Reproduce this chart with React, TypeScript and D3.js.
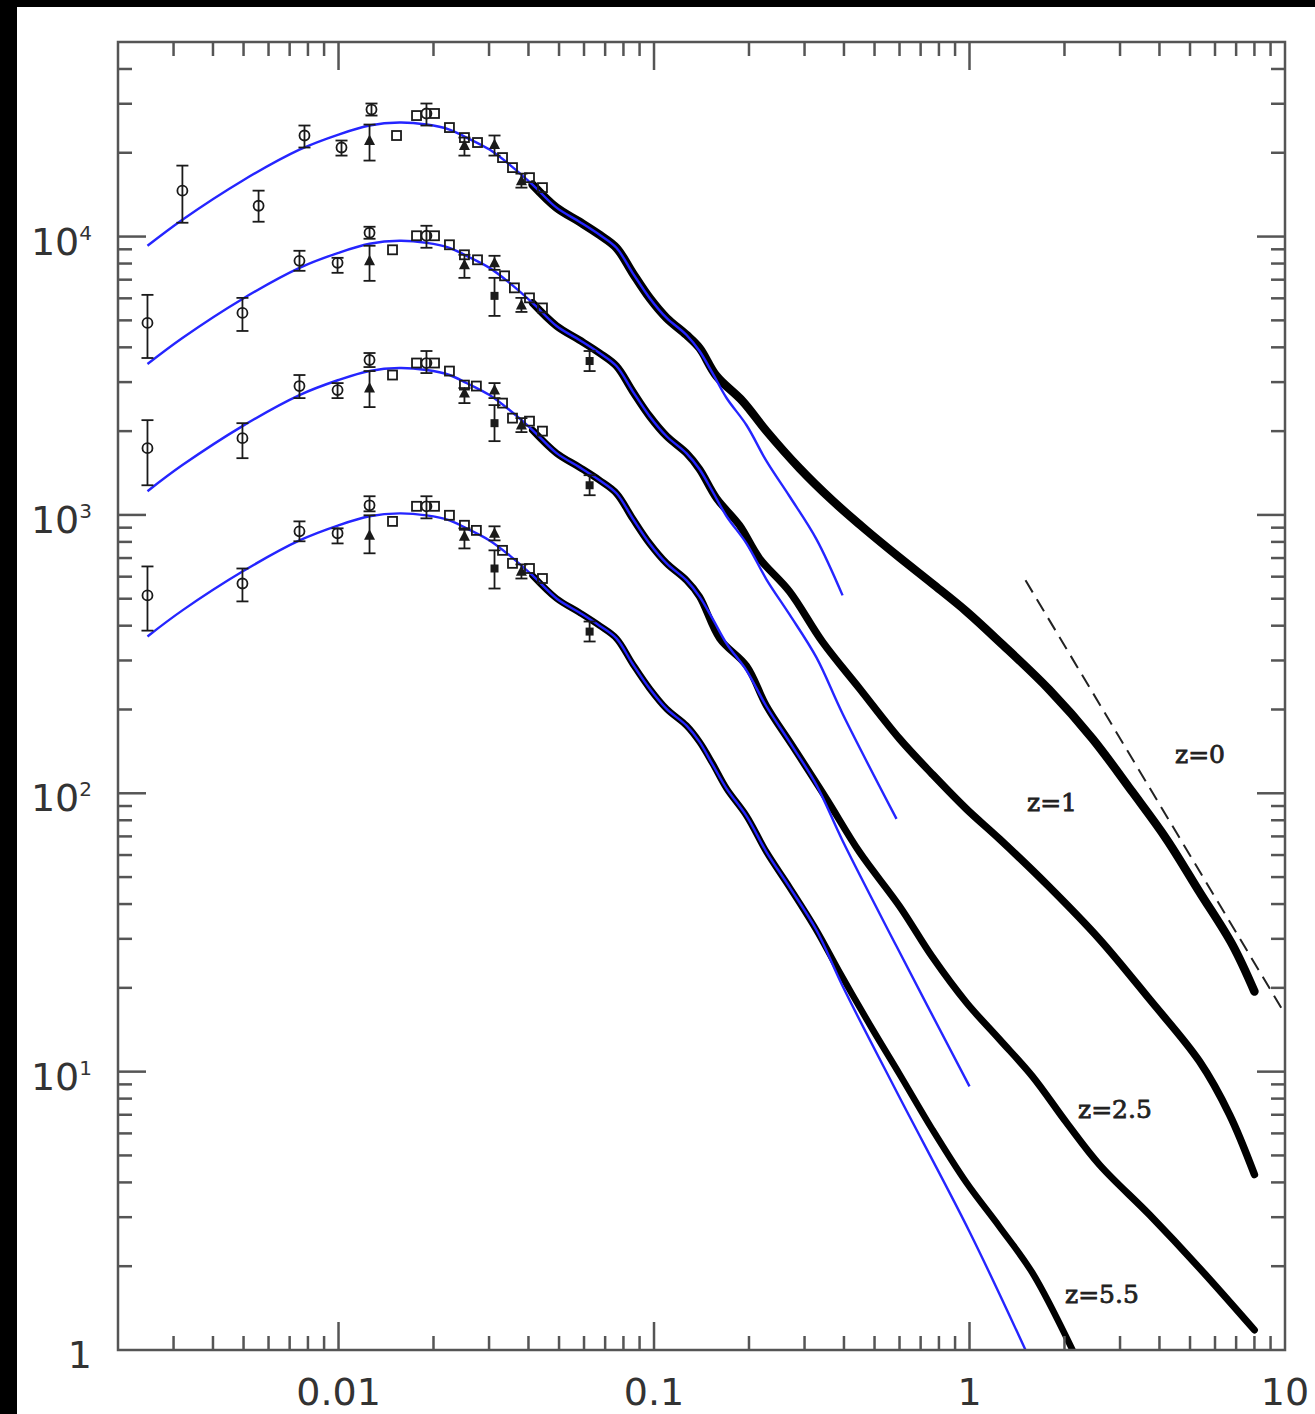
import React from "react";
import * as d3 from "d3";

// ---------- data ----------
// axis ticks
const xTickValues = [0.01, 0.1, 1, 10];
const xTickLabels = ["0.01", "0.1", "1", "10"];
const yTickValues = [1, 10, 100, 1000, 10000];
const yTickExps = ["", "1", "2", "3", "4"];

// linear-theory curves (blue): shared k grid, P per redshift
const kLin = [0.00248, 0.0032, 0.00496, 0.00752, 0.01, 0.01254, 0.01561, 0.019, 0.02247, 0.02545, 0.0301, 0.03483, 0.0412, 0.0491, 0.058, 0.0672, 0.076, 0.0855, 0.0968, 0.1096, 0.1268, 0.1394, 0.1533, 0.1698, 0.1965, 0.2273, 0.2688, 0.3274, 0.396, 0.587, 1.0, 1.505];
const pLinZ0 = [9270, 11500, 15880, 20530, 23260, 25060, 25680, 25260, 24240, 22680, 20530, 18140, 15370, 12700, 11310, 10150, 9115, 7410, 6020, 5100, 4430, 3880, 3230, 2630, 2100, 1560, 1167, 817, 514];
const pLinZ1 = [3485, 4323, 5970, 7718, 8744, 9421, 9654, 9496, 9113, 8526, 7718, 6820, 5778, 4774, 4252, 3816, 3427, 2786, 2263, 1917, 1665, 1459, 1214, 989, 789, 586, 439, 307, 193, 80.9];
const pLinZ25 = [1217, 1510, 2085, 2695, 3053, 3290, 3371, 3316, 3182, 2977, 2695, 2381, 2018, 1667, 1485, 1332, 1196, 973, 790, 670, 582, 509, 424, 345, 276, 205, 153, 107, 67.5, 28.2, 8.85];
const pLinZ55 = [366, 454, 626, 810, 918, 989, 1013, 996, 956, 895, 810, 716, 606, 501, 446, 400, 360, 292, 238, 201, 175, 153, 127, 104, 82.8, 61.5, 46.0, 32.2, 20.3, 8.48, 2.66, 1.0];

// simulation curves (thick black)
const kNlZ0 = [0.0412, 0.0491, 0.058, 0.0672, 0.076, 0.0855, 0.0968, 0.1096, 0.1268, 0.1394, 0.1578, 0.1908, 0.2273, 0.2892, 0.368, 0.4715, 0.6, 0.763, 0.978, 1.245, 1.793, 2.454, 3.285, 4.21, 5.358, 6.818, 8.0];
const pNlZ0 = [15370, 12700, 11310, 10150, 9115, 7410, 6020, 5100, 4430, 3978, 3155, 2564, 2000, 1471, 1125, 880, 703, 566, 450, 350, 235, 157, 101, 68.5, 44.2, 28.5, 19.4];
const kNlZ1 = [0.0412, 0.0491, 0.058, 0.0672, 0.076, 0.0855, 0.0968, 0.1096, 0.1268, 0.1394, 0.1578, 0.1866, 0.216, 0.2688, 0.342, 0.448, 0.6, 0.763, 0.978, 1.245, 1.793, 2.582, 3.72, 5.358, 6.67, 8.0];
const pNlZ1 = [5777, 4774, 4251, 3816, 3426, 2785, 2264, 1918, 1666, 1459, 1148, 918, 698, 531, 350, 238, 157, 117, 87.8, 68.5, 46.0, 29.9, 18.2, 10.88, 7.01, 4.27];
const kNlZ25 = [0.0412, 0.0491, 0.058, 0.0672, 0.076, 0.0855, 0.0968, 0.1096, 0.1268, 0.1394, 0.1613, 0.1965, 0.2273, 0.2748, 0.3522, 0.448, 0.6, 0.763, 0.978, 1.245, 1.584, 2.03, 2.582, 3.72, 5.358, 8.0];
const pNlZ25 = [2016, 1666, 1484, 1332, 1196, 972, 790, 670, 582, 509, 360, 287, 206, 148, 95.5, 61.5, 39.3, 25.8, 17.7, 13.06, 9.61, 6.56, 4.63, 3.06, 1.97, 1.18];
const kNlZ55 = [0.0412, 0.0491, 0.058, 0.0672, 0.076, 0.0855, 0.0968, 0.1096, 0.1268, 0.1394, 0.1533, 0.1698, 0.1965, 0.2273, 0.2688, 0.3274, 0.3872, 0.4926, 0.6, 0.763, 0.978, 1.245, 1.584, 2.121];
const pNlZ55 = [606, 501, 446, 400, 360, 292, 238, 201, 175, 153, 128, 104, 82.9, 61.5, 46.0, 32.2, 22.8, 14.2, 9.8, 6.19, 3.99, 2.77, 1.89, 1.0];

// dashed power-law reference
const kDash = [1.505, 10];
const pDash = [582, 16.1];

// observational points: [k, P, lo, hi]
const circlesZ0 = [[0.0032, 14620, 11210, 17985], [0.00558, 12905, 11306, 14620], [0.0078, 23070, 20890, 25056], [0.01022, 20890, 19540, 22130], [0.01272, 28600, 27210, 30060], [0.019, 27680, 25056, 30060]];
const squaresZ0 = [[0.01527, 23070], [0.01767, 27210], [0.02015, 27680], [0.02247, 24640], [0.02507, 22680], [0.02758, 21770], [0.0331, 19220], [0.0356, 17690], [0.0403, 16280], [0.0443, 14990]];
const trianglesZ0 = [[0.01254, 22130, 18750, 25260], [0.02507, 21230, 19540, 22680], [0.03122, 21410, 19540, 23070], [0.038, 15880, 14990, 16830]];
const filledSquaresZ0: number[][] = [];

const circlesZ1 = [[0.00248, 4895, 3662, 6174], [0.00496, 5318, 4580, 6022], [0.00752, 8183, 7533, 8890], [0.00993, 8049, 7409, 8387], [0.01254, 10320, 9820, 10846], [0.019, 10067, 9115, 10935]];
const squaresZ1 = [[0.01483, 8963], [0.01767, 10067], [0.02015, 10067], [0.02247, 9343], [0.02507, 8600], [0.02758, 8251], [0.0336, 7226], [0.0361, 6542], [0.0403, 6022], [0.0443, 5542]];
const trianglesZ1 = [[0.01254, 8183, 6933, 9268], [0.02507, 7915, 7107, 8600], [0.03122, 8049, 7594, 8529], [0.038, 5681, 5361, 6022]];
const filledSquaresZ1 = [[0.03122, 6123, 5188, 7107], [0.0625, 3572, 3287, 3880]];

const circlesZ25 = [[0.00248, 1737, 1278, 2190], [0.00496, 1887, 1599, 2136], [0.00752, 2904, 2628, 3181], [0.00993, 2809, 2628, 2976], [0.01254, 3602, 3398, 3816], [0.019, 3513, 3233, 3880]];
const squaresZ25 = [[0.01483, 3181], [0.01767, 3513], [0.02015, 3513], [0.02247, 3287], [0.02507, 2927], [0.02735, 2904], [0.0331, 2522], [0.0356, 2227], [0.0403, 2172], [0.0443, 2000]];
const trianglesZ25 = [[0.01254, 2856, 2440, 3287], [0.02507, 2740, 2522, 2856], [0.03122, 2809, 2628, 2976], [0.038, 2102, 1984, 2227]];
const filledSquaresZ25 = [[0.03122, 2136, 1841, 2480], [0.0625, 1278, 1177, 1389]];

const circlesZ55 = [[0.00248, 514, 384, 653], [0.00496, 567, 489, 642], [0.00752, 873, 804, 948], [0.00993, 859, 790, 895], [0.01254, 1083, 1030, 1167], [0.019, 1074, 972, 1167]];
const squaresZ55 = [[0.01483, 948], [0.01767, 1074], [0.02015, 1074], [0.02247, 997], [0.02507, 918], [0.02735, 880], [0.0331, 746], [0.0356, 670], [0.0403, 642], [0.0443, 591]];
const trianglesZ55 = [[0.01254, 845, 728, 997], [0.02507, 838, 758, 895], [0.03122, 859, 810, 910], [0.038, 627, 591, 664]];
const filledSquaresZ55 = [[0.03122, 642, 544, 746], [0.0625, 381, 351, 414]];

const seriesLabels = ["z=0", "z=1", "z=2.5", "z=5.5"];

// ---------- component ----------
const W = 1315;
const H = 1414;
const L = 118, R = 1285, T = 42, B = 1350;

export default function App() {
  const x = d3.scaleLog().domain([0.002, 10]).range([L, R]);
  const y = d3.scaleLog().domain([1, 5e4]).range([B, T]);

  const line = d3
    .line<[number, number]>()
    .x((d) => x(d[0]))
    .y((d) => y(d[1]))
    .curve(d3.curveCatmullRom.alpha(0.5));

  const zip = (ks: number[], ps: number[]) => ps.map((p, i) => [ks[i], p] as [number, number]);

  const linSeries = [pLinZ0, pLinZ1, pLinZ25, pLinZ55].map((ps) => zip(kLin, ps));
  const nlSeries = [
    zip(kNlZ0, pNlZ0),
    zip(kNlZ1, pNlZ1),
    zip(kNlZ25, pNlZ25),
    zip(kNlZ55, pNlZ55),
  ];
  const nlWidth = [8.5, 7.5, 7, 6.5];
  const circles = [circlesZ0, circlesZ1, circlesZ25, circlesZ55];
  const squares = [squaresZ0, squaresZ1, squaresZ25, squaresZ55];
  const triangles = [trianglesZ0, trianglesZ1, trianglesZ25, trianglesZ55];
  const fsquares = [filledSquaresZ0, filledSquaresZ1, filledSquaresZ25, filledSquaresZ55];

  // ticks
  const xTicks: { v: number; major: boolean }[] = [];
  for (let e = -3; e <= 1; e++) {
    for (let m = 1; m <= 9; m++) {
      const v = m * Math.pow(10, e);
      if (v > 0.002 * 1.001 && v < 10 * 0.999) xTicks.push({ v, major: m === 1 });
    }
  }
  const yTicks: { v: number; major: boolean }[] = [];
  for (let e = 0; e <= 4; e++) {
    for (let m = 1; m <= 9; m++) {
      const v = m * Math.pow(10, e);
      if (v > 1.001 && v < 5e4 * 0.999) yTicks.push({ v, major: m === 1 });
    }
  }
  const MAJ = 28, MIN = 14;
  const axisColor = "#555";
  const markColor = "#1a1a1a";

  const errBar = (d: number[], key: string) => {
    const cx = x(d[0]);
    const y1 = y(d[2]);
    const y2 = y(d[3]);
    return (
      <g key={key} stroke={markColor} strokeWidth={1.8}>
        <line x1={cx} x2={cx} y1={y1} y2={y2} />
        <line x1={cx - 6} x2={cx + 6} y1={y1} y2={y1} />
        <line x1={cx - 6} x2={cx + 6} y1={y2} y2={y2} />
      </g>
    );
  };

  const labelPos = [
    { x: 1175, y: 763 },
    { x: 1027, y: 811 },
    { x: 1078, y: 1118 },
    { x: 1065, y: 1303 },
  ];

  return (
    <div style={{ position: "absolute", left: 0, top: 0 }}>
      <svg width={W} height={H} xmlns="http://www.w3.org/2000/svg" style={{ display: "block" }}>
        <defs>
          <clipPath id="plotClip">
            <rect x={L} y={T} width={R - L} height={B - T} />
          </clipPath>
        </defs>
        <rect x={0} y={0} width={W} height={H} fill="#fff" />
        <rect x={0} y={0} width={17} height={H} fill="#000" />
        <rect x={0} y={0} width={W} height={7} fill="#000" />

        <g clipPath="url(#plotClip)">
          {/* simulation curves */}
          {nlSeries.map((s, i) => (
            <path key={"nl" + i} d={line(s) || ""} fill="none" stroke="#000" strokeWidth={nlWidth[i]} strokeLinecap="round" strokeLinejoin="round" />
          ))}
          {/* linear theory */}
          {linSeries.map((s, i) => (
            <path key={"lin" + i} d={line(s) || ""} fill="none" stroke="#2525ff" strokeWidth={2.4} />
          ))}
          {/* dashed reference */}
          <path d={line(zip(kDash, pDash)) || ""} fill="none" stroke="#222" strokeWidth={2} strokeDasharray="14,8" />

          {/* markers */}
          {[0, 1, 2, 3].map((si) => (
            <g key={"mk" + si}>
              {circles[si].map((d, j) => (
                <g key={"c" + j}>
                  {errBar(d, "ce" + j)}
                  <circle cx={x(d[0])} cy={y(d[1])} r={5} fill="none" stroke={markColor} strokeWidth={1.8} />
                </g>
              ))}
              {squares[si].map((d, j) => (
                <rect key={"s" + j} x={x(d[0]) - 4.5} y={y(d[1]) - 4.5} width={9} height={9} fill="none" stroke={markColor} strokeWidth={1.8} />
              ))}
              {triangles[si].map((d, j) => {
                const cx = x(d[0]);
                const cy = y(d[1]);
                return (
                  <g key={"t" + j}>
                    {errBar(d, "te" + j)}
                    <path d={`M${cx},${cy - 6}L${cx + 5.5},${cy + 4.5}L${cx - 5.5},${cy + 4.5}Z`} fill={markColor} />
                  </g>
                );
              })}
              {fsquares[si].map((d, j) => (
                <g key={"f" + j}>
                  {errBar(d, "fe" + j)}
                  <rect x={x(d[0]) - 4} y={y(d[1]) - 4} width={8} height={8} fill={markColor} />
                </g>
              ))}
            </g>
          ))}
        </g>

        {/* frame */}
        <rect x={L} y={T} width={R - L} height={B - T} fill="none" stroke={axisColor} strokeWidth={2.5} />
        {/* x ticks */}
        {xTicks.map((t, i) => {
          const px = x(t.v);
          const len = t.major ? MAJ : MIN;
          return (
            <g key={"xt" + i} stroke={axisColor} strokeWidth={2.5}>
              <line x1={px} x2={px} y1={B} y2={B - len} />
              <line x1={px} x2={px} y1={T} y2={T + len} />
            </g>
          );
        })}
        {/* y ticks */}
        {yTicks.map((t, i) => {
          const py = y(t.v);
          const len = t.major ? MAJ : MIN;
          return (
            <g key={"yt" + i} stroke={axisColor} strokeWidth={2.5}>
              <line x1={L} x2={L + len} y1={py} y2={py} />
              <line x1={R} x2={R - len} y1={py} y2={py} />
            </g>
          );
        })}

        {/* x tick labels */}
        {xTickValues.map((v, i) => (
          <text key={"xl" + i} x={x(v)} y={1405} textAnchor="middle" fontFamily="DejaVu Sans" fontSize={38} fill="#333">
            {xTickLabels[i]}
          </text>
        ))}
        {/* y tick labels */}
        {yTickValues.map((v, i) => (
          <text key={"yl" + i} x={92} y={y(v) + 18} textAnchor="end" fontFamily="DejaVu Sans" fontSize={38} fill="#333">
            {yTickExps[i] === "" ? "1" : "10"}
            {yTickExps[i] !== "" && (
              <tspan fontSize={20} dy={-15}>
                {yTickExps[i]}
              </tspan>
            )}
          </text>
        ))}

        {/* redshift labels */}
        {seriesLabels.map((s, i) => (
          <text key={"zl" + i} x={labelPos[i].x} y={labelPos[i].y} fontFamily="DejaVu Serif" fontSize={25} fill="#222" stroke="#222" strokeWidth={0.8}>
            {s}
          </text>
        ))}
      </svg>
    </div>
  );
}
